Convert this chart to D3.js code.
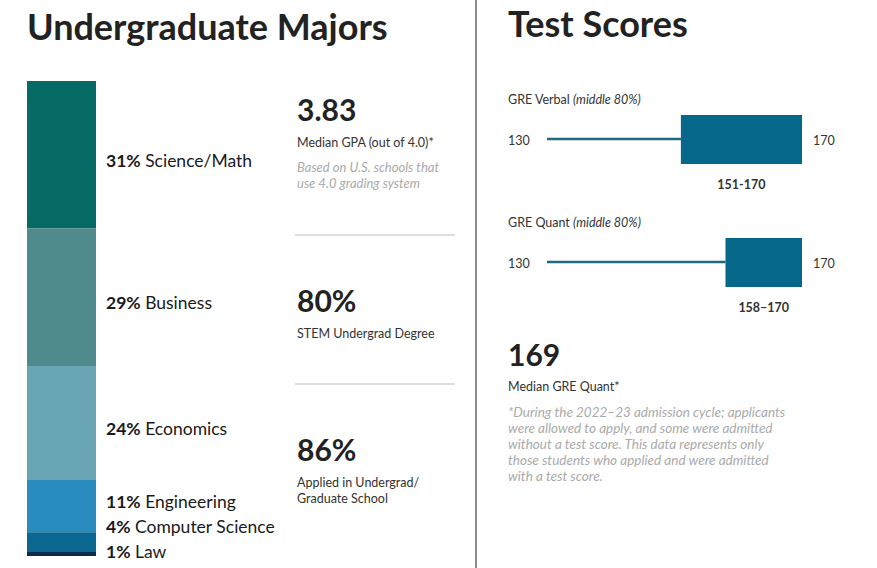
<!DOCTYPE html>
<html>
<head>
<meta charset="UTF-8">
<title>Undergraduate Majors / Test Scores</title>
<script src="https://cdn.jsdelivr.net/npm/d3@7"></script>
<style>
  body { margin: 0; background: #fff; font-family: 'Lato', sans-serif; }
  svg { display: block; }
  .title { font-size: 36px; font-weight: 700; fill: #222; }
  .big { font-size: 30px; font-weight: 700; fill: #222; }
  .small { font-size: 12.5px; fill: #333; }
  .note { font-size: 13px; font-style: italic; fill: #aaa; }
  .foot { font-size: 13.5px; }
</style>
</head>
<body>
<div id="chart"></div>
<script>
// majors breakdown
const majors = ["Science/Math", "Business", "Economics", "Engineering", "Computer Science", "Law"];
const majorPct = [31, 29, 24, 11, 4, 1];
const majorColors = ["#066b64", "#4f8a8d", "#69a5b4", "#2a8bbe", "#0b6890", "#0e2a4e"];

// side statistics
const statValues = ["3.83", "80%", "86%"];
const statLabels = [["Median GPA (out of 4.0)*"], ["STEM Undergrad Degree"], ["Applied in Undergrad/", "Graduate School"]];
const statNotes = [["Based on U.S. schools that", "use 4.0 grading system"], [], []];

// GRE ranges
const tests = ["GRE Verbal", "GRE Quant"];
const testLow = [151, 158];
const testHigh = [170, 170];
const rangeLabels = ["151-170", "158\u2013170"];
const scoreDomain = [130, 170];
const medianQuant = "169";
const footnote = [
  "*During the 2022\u201323 admission cycle; applicants",
  "were allowed to apply, and some were admitted",
  "without a test score. This data represents only",
  "those students who applied and were admitted",
  "with a test score."
];

const width = 877, height = 568;
const svg = d3.select("#chart").append("svg")
  .attr("width", width)
  .attr("height", height);

// divider
svg.append("line")
  .attr("x1", 476).attr("x2", 476)
  .attr("y1", 0).attr("y2", height)
  .attr("stroke", "#8a8a8a").attr("stroke-width", 2);

// ---- left: stacked bar
svg.append("text").attr("class", "title").attr("x", 27).attr("y", 40).text("Undergraduate Majors");

const y = d3.scaleLinear().domain([0, d3.sum(majorPct)]).range([81, 556]);
const color = d3.scaleOrdinal().domain(majors).range(majorColors);

let acc = 0;
const segs = majors.map((m, i) => {
  const s = { name: m, pct: majorPct[i], y0: acc, y1: acc + majorPct[i] };
  acc += majorPct[i];
  return s;
});

svg.selectAll("rect.seg")
  .data(segs)
  .enter().append("rect")
  .attr("class", "seg")
  .attr("x", 27)
  .attr("width", 69)
  .attr("y", d => y(d.y0))
  .attr("height", d => y(d.y1) - y(d.y0))
  .attr("fill", d => color(d.name));

// label positions: centre of segment, pushed up so the small ones stack
const labelY = segs.map(d => (y(d.y0) + y(d.y1)) / 2 + 12);
let limit = 558;
for (let i = labelY.length - 1; i >= 0; i--) {
  labelY[i] = Math.min(labelY[i], limit);
  limit = labelY[i] - 25;
}

const lab = svg.selectAll("text.maj")
  .data(segs)
  .enter().append("text")
  .attr("class", "maj")
  .attr("x", 106)
  .attr("y", (d, i) => labelY[i])
  .attr("font-size", 17.5)
  .attr("fill", "#1a1a1a");
lab.append("tspan").attr("font-weight", 700).text(d => d.pct + "%");
lab.append("tspan").text(d => " " + d.name);

// ---- middle stats
const statTop = [121, 312, 461];
statValues.forEach((v, i) => {
  const g = svg.append("g").attr("transform", `translate(297,${statTop[i]})`);
  g.append("text").attr("class", "big").text(v);
  statLabels[i].forEach((t, j) => {
    g.append("text").attr("class", "small").attr("y", 26 + j * 16).text(t);
  });
  statNotes[i].forEach((t, j) => {
    g.append("text").attr("class", "note").attr("y", 51 + j * 16).text(t);
  });
});
[235, 384].forEach(ly => {
  svg.append("line")
    .attr("x1", 295).attr("x2", 455)
    .attr("y1", ly).attr("y2", ly)
    .attr("stroke", "#dedede").attr("stroke-width", 2);
});

// ---- right: test scores
svg.append("text").attr("class", "title").attr("x", 508).attr("y", 37).text("Test Scores");

const x = d3.scaleLinear().domain(scoreDomain).range([547, 802]);
const rowTop = [115, 238];

tests.forEach((t, i) => {
  const top = rowTop[i];
  const mid = top + 24;
  const lbl = svg.append("text").attr("class", "small").attr("x", 508).attr("y", top - 11)
    .attr("font-size", 13);
  lbl.append("tspan").text(t + " ");
  lbl.append("tspan").attr("font-style", "italic").text("(middle 80%)");

  svg.append("line")
    .attr("x1", x(scoreDomain[0])).attr("x2", x(testLow[i]))
    .attr("y1", mid).attr("y2", mid)
    .attr("stroke", "#1f6a80").attr("stroke-width", 2.5);
  svg.append("rect")
    .attr("x", x(testLow[i]))
    .attr("y", top)
    .attr("width", x(testHigh[i]) - x(testLow[i]))
    .attr("height", 49)
    .attr("fill", "#05678a");

  svg.append("text").attr("class", "small").attr("x", 508).attr("y", mid + 6)
    .attr("font-size", 13.5).attr("fill", "#444").text(scoreDomain[0]);
  svg.append("text").attr("class", "small").attr("x", 813).attr("y", mid + 6)
    .attr("font-size", 13.5).attr("fill", "#444").text(scoreDomain[1]);
  svg.append("text").attr("class", "small")
    .attr("x", (x(testLow[i]) + x(testHigh[i])) / 2)
    .attr("y", top + 74)
    .attr("text-anchor", "middle")
    .attr("font-size", 13.5)
    .attr("font-weight", 700)
    .text(rangeLabels[i]);
});

svg.append("text").attr("class", "big").attr("x", 508).attr("y", 366).text(medianQuant);
svg.append("text").attr("class", "small").attr("x", 508).attr("y", 391).text("Median GRE Quant*");
svg.selectAll("text.foot")
  .data(footnote)
  .enter().append("text")
  .attr("class", "note foot")
  .attr("x", 508)
  .attr("y", (d, i) => 417 + i * 16)
  .text(d => d);
</script>
</body>
</html>
